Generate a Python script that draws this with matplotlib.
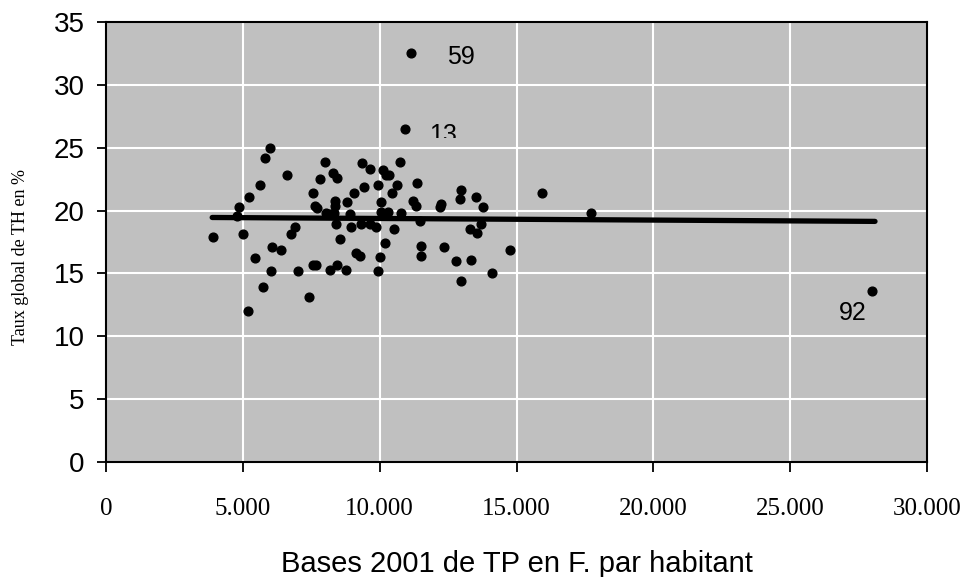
import numpy as np
import matplotlib
matplotlib.use("Agg")
import matplotlib.pyplot as plt
from matplotlib.ticker import FuncFormatter, MultipleLocator
from matplotlib.transforms import Bbox, TransformedBbox

# bases TP par habitant (F.) et taux global de TH (%)
bases = [3910, 4790, 4870, 5010, 5200, 5230, 5450, 5610, 5740, 5820,
         6000, 6070, 6040, 6400, 6620, 6770, 6910, 7020, 7430, 7550,
         7560, 7680, 7620, 7700, 7830, 8020, 8050, 8170, 8200, 8290,
         8320, 8350, 8350, 8390, 8440, 8450, 8560, 8760, 8820, 8900,
         8960, 9080, 9150, 9270, 9330, 9340, 9430, 9630, 9630, 9880,
         9940, 9950, 10000, 10060, 10060, 10120, 10210, 10240, 10310, 10340,
         10440, 10510, 10640, 10730, 10790, 10910, 11160, 11200, 11320, 11380,
         11490, 11500, 11520, 12200, 12230, 12340, 12800, 12930, 12990, 12990,
         13290, 13350, 13510, 13570, 13720, 13760, 14090, 14760, 15950, 17720,
         28000]
taux = [17.9, 19.6, 20.3, 18.1, 12.0, 21.1, 16.2, 22.0, 13.9, 24.2,
        25.0, 17.1, 15.2, 16.9, 22.8, 18.1, 18.7, 15.2, 13.1, 21.4,
        15.7, 15.7, 20.4, 20.2, 22.5, 23.9, 19.8, 15.3, 19.7, 23.0,
        19.8, 20.8, 20.4, 18.9, 22.6, 15.7, 17.7, 15.3, 20.7, 19.7,
        18.7, 21.4, 16.6, 16.4, 18.9, 23.8, 21.9, 23.3, 18.9, 18.7,
        15.2, 22.0, 16.3, 20.7, 19.9, 23.2, 17.4, 22.8, 19.9, 22.8,
        21.4, 18.5, 22.0, 23.9, 19.8, 26.5, 32.5, 20.8, 20.4, 22.2,
        19.2, 17.2, 16.4, 20.3, 20.5, 17.1, 16.0, 20.9, 21.6, 14.4,
        18.5, 16.1, 21.1, 18.2, 18.9, 20.3, 15.0, 16.9, 21.4, 19.8,
        13.6]

# droite de tendance
trend_x = [3880, 28100]
trend_y = [19.45, 19.14]

# etiquettes des points remarquables
labels = ["59", "13", "92"]
label_x = [12980, 12320, 27270]
label_y = [32.2, 26.0, 11.85]

fig = plt.figure(figsize=(9.67, 5.77), dpi=100)
ax = fig.add_axes([106/967, 115/577, 821/967, 440/577])
ax.set_facecolor("#c0c0c0")

ax.plot(bases, taux, "o", color="black", markersize=6.3, zorder=3)
ax.plot(trend_x, trend_y, color="black", linewidth=3.8, solid_capstyle="round", zorder=4)

for t, x, y in zip(labels, label_x, label_y):
    txt = ax.text(x, y, t, fontsize=18, family="Liberation Sans",
                  ha="center", va="center", zorder=5)
    if t == "13":
        # le libelle est coupe dans l'original
        txt.set_clip_on(True)
        txt.set_clip_box(TransformedBbox(Bbox([[0, 25.75], [30000, 35]]), ax.transData))

ax.set_xlim(0, 30000)
ax.set_ylim(0, 35)
ax.xaxis.set_major_locator(MultipleLocator(5000))
ax.yaxis.set_major_locator(MultipleLocator(5))
ax.xaxis.set_major_formatter(FuncFormatter(lambda v, p: f"{int(v):,}".replace(",", ".")))

ax.grid(True, color="white", linewidth=1.5)
ax.set_axisbelow(True)
for s in ax.spines.values():
    s.set_linewidth(1.5)
    s.set_color("black")

ax.tick_params(axis="both", direction="out", width=1.3, color="black")
ax.tick_params(axis="x", length=7, pad=19)
ax.tick_params(axis="y", length=6.5, pad=9)
for lab in ax.get_xticklabels():
    lab.set_family("Liberation Serif")
    lab.set_fontsize(18)
for lab in ax.get_yticklabels():
    lab.set_family("Liberation Sans")
    lab.set_fontsize(20)

ax.set_xlabel("Bases 2001 de TP en F. par habitant", family="Liberation Sans", fontsize=21)
ax.xaxis.set_label_coords(0.5, -0.2)
ax.set_ylabel("Taux global de TH en %", family="Liberation Serif", fontsize=13)
ax.yaxis.set_label_coords(-0.094, 0.465)

fig.savefig("out.png", dpi=100)
